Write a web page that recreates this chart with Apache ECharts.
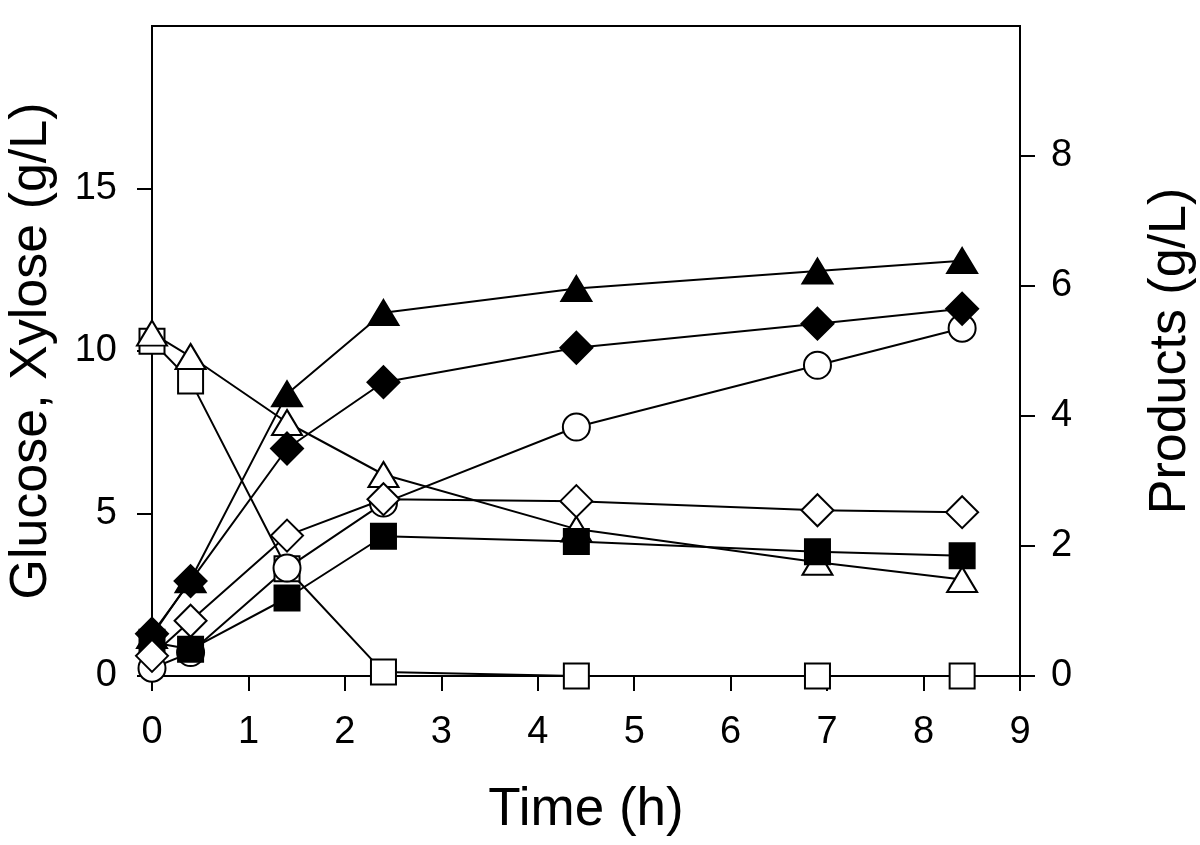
<!DOCTYPE html>
<html>
<head>
<meta charset="utf-8">
<script src="https://cdn.jsdelivr.net/npm/echarts@6/dist/echarts.min.js"></script>
<style>
html,body{margin:0;padding:0;background:#fff;}
#c{width:1200px;height:845px;}
</style>
</head>
<body>
<div id="c"></div>
<script>
// Time points (h)
const times = [0, 0.4, 1.4, 2.4, 4.4, 6.9, 8.4];
// Left axis (g/L)
const glucose = [10.3, 9.08, 3.3, 0.12, 0, 0, 0];
const xylose = [10.55, 9.83, 7.8, 6.2, 4.52, 3.5, 2.97];
// Right axis products (g/L)
const filledTriangle = [0.62, 1.48, 4.34, 5.59, 5.96, 6.23, 6.39];
const filledDiamond = [0.65, 1.46, 3.5, 4.52, 5.05, 5.42, 5.65];
const openCircle = [0.12, 0.36, 1.66, 2.66, 3.83, 4.78, 5.35];
const openDiamond = [0.31, 0.85, 2.16, 2.72, 2.69, 2.55, 2.52];
const filledSquare = [0.52, 0.41, 1.2, 2.15, 2.07, 1.91, 1.85];
// Tick labels
const xTicks = [0,1,2,3,4,5,6,7,8,9];
const leftTicks = [0, 5, 10, 15];
const rightTicks = [0, 2, 4, 6, 8];

const FONT = '"Liberation Sans", Arial, sans-serif';
const pair = arr => times.map((t, i) => [t, arr[i]]);

function mk(name, data, yIdx, symbol, size, filled) {
  return {
    name, type: 'line', yAxisIndex: yIdx, data: pair(data),
    symbol, symbolSize: size, showAllSymbol: true,
    lineStyle: {color: '#000', width: 2},
    itemStyle: {color: filled ? '#000' : '#fff', borderColor: '#000', borderWidth: 2, opacity: 1},
    emphasis: {disabled: true},
    animation: false
  };
}

const chart = echarts.init(document.getElementById('c'));
chart.setOption({
  backgroundColor: '#fff',
  animation: false,
  grid: {left: 152, right: 180, top: 26, bottom: 169, containLabel: false, outerBoundsMode: 'none',
         show: true, borderColor: '#000', borderWidth: 2},
  xAxis: {
    type: 'value', min: 0, max: 9, interval: 1,
    name: 'Time (h)', nameLocation: 'middle', nameGap: 108,
    nameTextStyle: {fontFamily: FONT, fontSize: 53, color: '#000'},
    axisLine: {show: true, lineStyle: {color: '#000', width: 2}},
    axisTick: {show: true, length: 15, lineStyle: {color: '#000', width: 2}, customValues: xTicks},
    axisLabel: {fontFamily: FONT, fontSize: 38, color: '#000', margin: 38, customValues: xTicks},
    splitLine: {show: false}
  },
  yAxis: [{
    type: 'value', min: 0, max: 20, interval: 5, position: 'left',
    name: 'Glucose, Xylose (g/L)', nameLocation: 'middle', nameGap: 94, nameRotate: 90,
    nameTextStyle: {fontFamily: FONT, fontSize: 52, color: '#000'},
    axisLine: {show: true, lineStyle: {color: '#000', width: 2}},
    axisTick: {show: true, length: 15, lineStyle: {color: '#000', width: 2}, customValues: leftTicks},
    axisLabel: {fontFamily: FONT, fontSize: 38, color: '#000', margin: 35, customValues: leftTicks},
    splitLine: {show: false}
  }, {
    type: 'value', min: 0, max: 10, interval: 2, position: 'right',
    name: 'Products (g/L)', nameLocation: 'middle', nameGap: 125, nameRotate: 90,
    nameTextStyle: {fontFamily: FONT, fontSize: 52, color: '#000'},
    axisLine: {show: true, lineStyle: {color: '#000', width: 2}},
    axisTick: {show: true, length: 15, lineStyle: {color: '#000', width: 2}, customValues: rightTicks},
    axisLabel: {fontFamily: FONT, fontSize: 38, color: '#000', margin: 31, customValues: rightTicks},
    splitLine: {show: false}
  }],
  series: [
    mk('Glucose', glucose, 0, 'rect', 25, false),
    mk('Xylose', xylose, 0, 'triangle', [30, 25], false),
    mk('Open circle', openCircle, 1, 'circle', 27, false),
    mk('Filled square', filledSquare, 1, 'rect', 25, true),
    mk('Filled triangle', filledTriangle, 1, 'triangle', [30, 25], true),
    mk('Filled diamond', filledDiamond, 1, 'diamond', 32, true),
    mk('Open diamond', openDiamond, 1, 'diamond', 32, false)
  ]
});
</script>
</body>
</html>
